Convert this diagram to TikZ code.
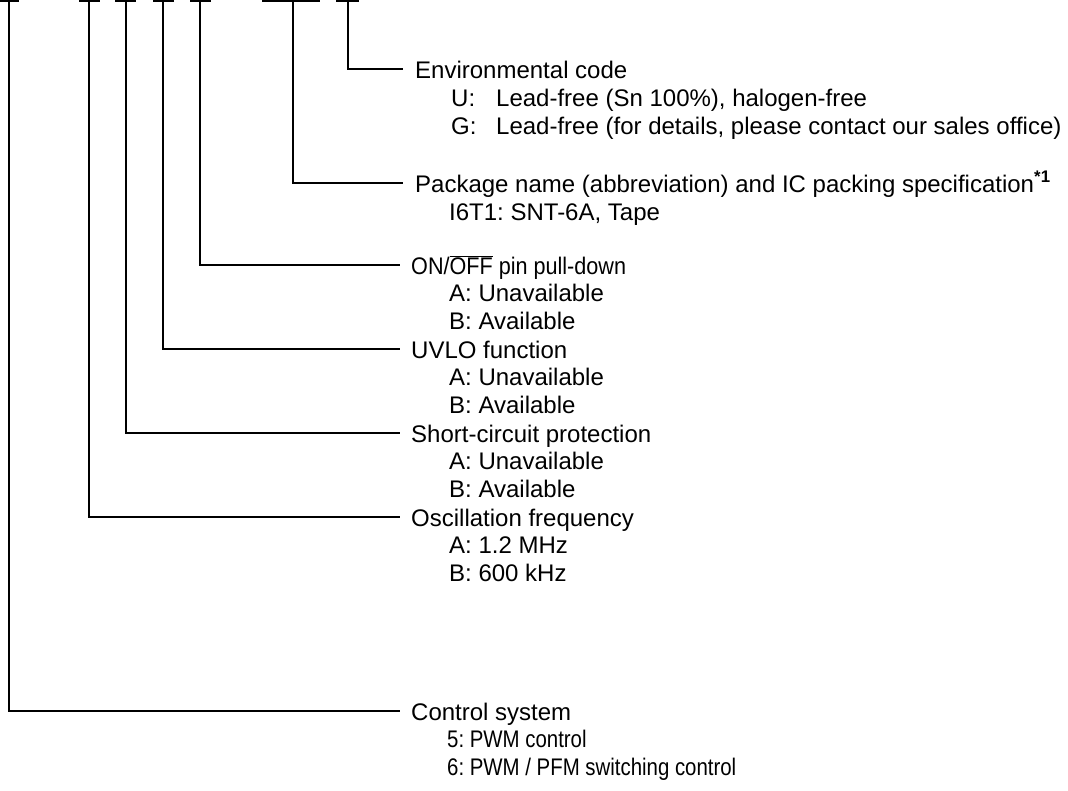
\documentclass[tikz,border=0pt]{standalone}
\usepackage{fontspec}
\setmainfont{Liberation Sans}
\frenchspacing
\begin{document}
\begin{tikzpicture}[x=1pt,y=-1pt,
  wire/.style={draw=black,line width=1.6pt},
  head/.style={anchor=west,inner sep=0pt,text height=18pt,text depth=0pt,font=\fontsize{24}{28}\selectfont},
  item/.style={anchor=base west,inner sep=0pt,font=\fontsize{24}{28}\selectfont}]
\useasboundingbox (0,0) rectangle (1068,790);
% T tops
\foreach \n/\a/\b/\c in {t1/0/19/9, t2/79/100/89, t3/115/136/126, t4/153/174/163, t5/190/211/200, t6/262/320/293, t7/336/359/348}{
  \coordinate (\n) at (\c,1);
  \draw[wire] (\a,1) -- (\b,1);
}
% headers
\node[head] (env) at (415,69) {Environmental code};
\node[head] (pkg) at (415,183) {Package name (abbreviation) and IC packing specification\textsuperscript{\textbf{*1}}};
\node[head] (onoff) at (411,265) {\scalebox{0.9}[1]{ON/\(\overline{\hbox{OFF}}\) pin pull-down}};
\node[head] (uvlo) at (411,349) {UVLO function};
\node[head] (scp) at (411,433) {Short-circuit protection};
\node[head] (osc) at (411,517) {Oscillation frequency};
\node[head] (ctl) at (411,711) {Control system};
% connectors
\foreach \t/\h/\y/\e in {t7/env/69/403, t6/pkg/183/403, t5/onoff/265/400, t4/uvlo/349/400, t3/scp/433/400, t2/osc/517/400, t1/ctl/711/400}{
  \coordinate (\h end) at (\e,\y);
  \draw[wire] (\t) |- (\h end);
}
% items
\node[item] (envU) at (451,106) {\makebox[45pt][l]{U:}Lead-free (Sn 100\%), halogen-free};
\node[item] (envG) at (451,134) {\makebox[45pt][l]{G:}Lead-free (for details, please contact our sales office)};
\node[item] (pkg1) at (449,220) {I6T1: SNT-6A, Tape};
\node[item] (onA) at (449,301.5) {A: Unavailable};
\node[item] (onB) at (449,329) {B: Available};
\node[item] (uvA) at (449,385.5) {A: Unavailable};
\node[item] (uvB) at (449,413) {B: Available};
\node[item] (scA) at (449,469.5) {A: Unavailable};
\node[item] (scB) at (449,497) {B: Available};
\node[item] (osA) at (449,553.5) {A: 1.2 MHz};
\node[item] (osB) at (449,581) {B: 600 kHz};
\node[item] (ct5) at (447,747.5) {\scalebox{0.85}[1]{5: PWM control}};
\node[item] (ct6) at (447,775) {\scalebox{0.85}[1]{6: PWM / PFM switching control}};
\end{tikzpicture}
\end{document}
